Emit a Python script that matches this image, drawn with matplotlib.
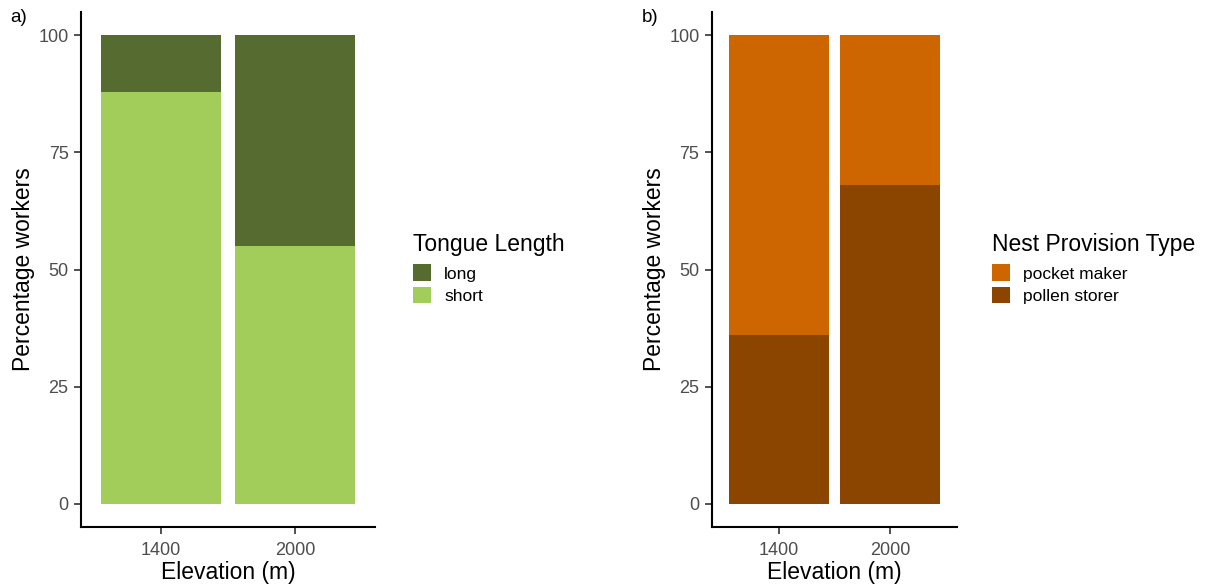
import numpy as np
import matplotlib
import matplotlib.pyplot as plt
from matplotlib.patches import Patch

matplotlib.rcParams["font.family"] = ["Liberation Sans", "DejaVu Sans"]

elevation = ["1400", "2000"]

# panel a: tongue length (% workers)
tongue_short = [88, 55]
tongue_long = [12, 45]

# panel b: nest provision type (% workers)
pollen_storer = [36, 68]
pocket_maker = [64, 32]

W, H = 1205, 585
fig = plt.figure(figsize=(W / 100, H / 100), dpi=100)


def setup(ax):
    ax.set_xlim(0.4, 2.6)
    ax.set_ylim(-5, 105)
    ax.set_xticks([1, 2])
    ax.set_xticklabels(elevation)
    ax.set_yticks([0, 25, 50, 75, 100])
    for s in ["top", "right"]:
        ax.spines[s].set_visible(False)
    for s in ["left", "bottom"]:
        ax.spines[s].set_linewidth(1.5)
        ax.spines[s].set_color("black")
    ax.tick_params(length=5, width=1.2, color="#333333", labelcolor="#4D4D4D",
                   labelsize=13, pad=4)
    ax.tick_params(axis="x", pad=6)
    ax.set_xlabel("Elevation (m)", fontsize=16.5, labelpad=1)
    ax.set_ylabel("Percentage workers", fontsize=16.5, labelpad=2)


x = np.array([1, 2])

ax1 = fig.add_axes([81 / W, (H - 527) / H, (375 - 81) / W, (527 - 12) / H])
ax1.bar(x, tongue_short, width=0.9, color="#A2CD5A")
ax1.bar(x, tongue_long, bottom=tongue_short, width=0.9, color="#556B2F")
setup(ax1)

ax2 = fig.add_axes([712 / W, (H - 527) / H, (957 - 712) / W, (527 - 12) / H])
ax2.bar(x, pollen_storer, width=0.9, color="#8B4500")
ax2.bar(x, pocket_maker, bottom=pollen_storer, width=0.9, color="#CD6600")
setup(ax2)

fig.text(10 / W, 1 - 18 / H, "a)", fontsize=13.5, va="center", ha="left")
fig.text(642 / W, 1 - 18 / H, "b)", fontsize=13.5, va="center", ha="left")


def add_legend(title, labels, colors, xpix):
    handles = [Patch(facecolor=c, edgecolor="none") for c in colors]
    leg = fig.legend(handles, labels, title=title, loc="upper left",
                     bbox_to_anchor=(xpix / W, 1 - 233 / H), frameon=False,
                     fontsize=12.5, title_fontsize=16.5, handlelength=1.05,
                     handleheight=1.1, labelspacing=0.3, handletextpad=0.75,
                     borderpad=0, borderaxespad=0)
    leg._legend_box.align = "left"
    leg._legend_box.sep = 6


add_legend("Tongue Length", ["long", "short"], ["#556B2F", "#A2CD5A"], 413)
add_legend("Nest Provision Type", ["pocket maker", "pollen storer"],
           ["#CD6600", "#8B4500"], 992)

fig.savefig("out.png", dpi=100)
